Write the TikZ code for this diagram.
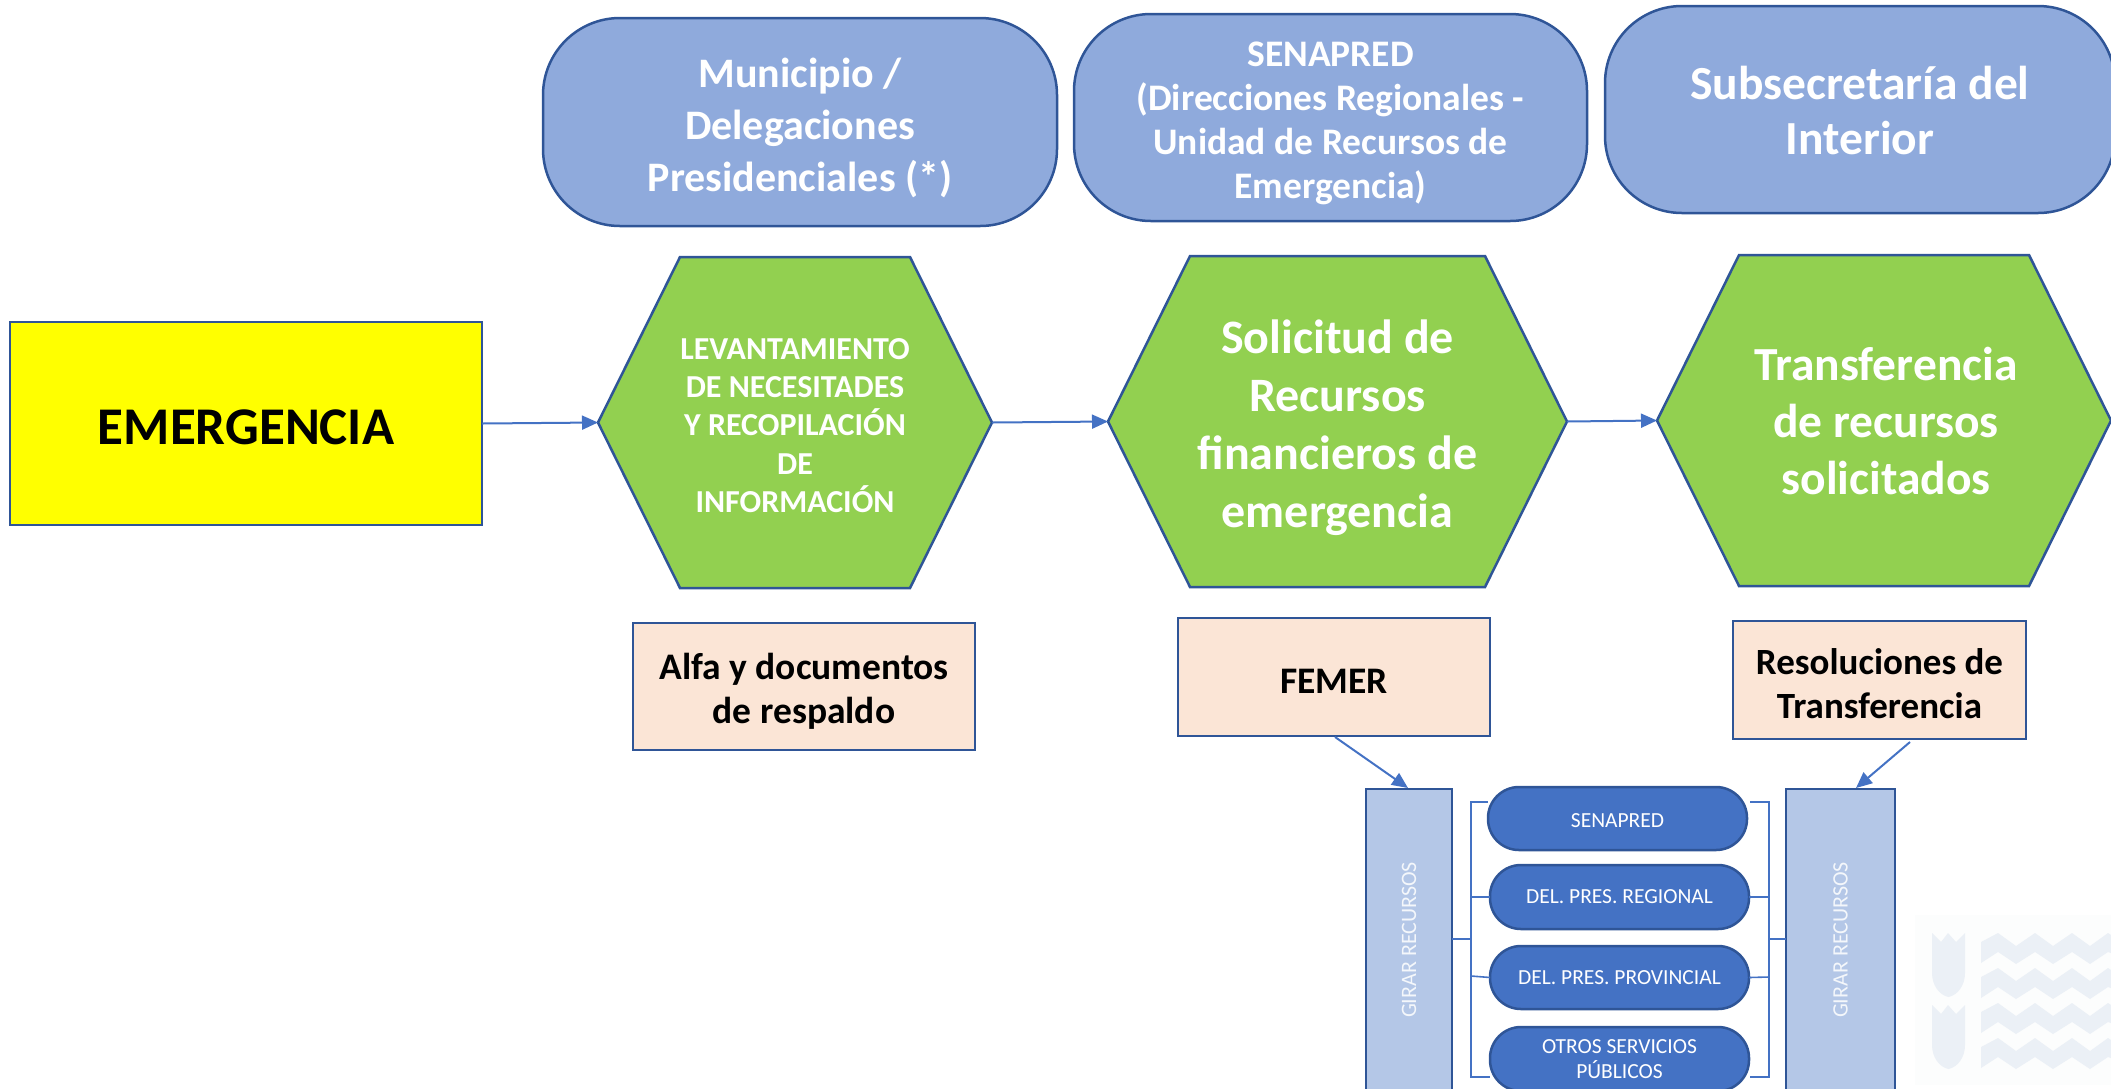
\documentclass[tikz,border=0pt]{standalone}
\usepackage{fontspec}
\setmainfont{Carlito}
\usetikzlibrary{calc,backgrounds,arrows.meta}
\definecolor{boxblue}{HTML}{8FAADC}
\definecolor{edgeblue}{HTML}{2F5597}
\definecolor{hexgreen}{HTML}{92D050}
\definecolor{peach}{HTML}{FBE5D6}
\definecolor{ovalblue}{HTML}{4472C4}
\definecolor{girar}{HTML}{B4C7E7}
\definecolor{wmark}{HTML}{EBF0F6}
\definecolor{wback}{HTML}{FCFDFD}
\definecolor{signal}{HTML}{FFFF00}
\newcommand{\fs}[2]{\fontsize{#1}{#2}\selectfont}
\newcommand{\dn}[1]{\rule{0pt}{\dimexpr 0.72em+#1pt*2\relax}}
\newcommand{\hexa}[2]{%
  \begin{scope}[on background layer]
  \filldraw[hexline] (#1.west) -- ($(#1.north west)+(#2,0)$) -- ($(#1.north east)+(-#2,0)$) -- (#1.east) -- ($(#1.south east)+(-#2,0)$) -- ($(#1.south west)+(#2,0)$) -- cycle;
  \end{scope}}
\tikzset{
  bold size/.style 2 args={font=\bfseries\fs{#1}{#2}},
  plain size/.style 2 args={font=\fs{#1}{#2}},
  base/.style={inner sep=0pt,outer sep=0pt,align=center,line width=2.5pt,draw=edgeblue},
  head/.style={base,fill=boxblue,text=white,rounded corners=77pt},
  hextext/.style={inner sep=0pt,outer sep=0pt,align=center,text=white,minimum height=331pt},
  hexline/.style={fill=hexgreen,draw=edgeblue,line width=2.5pt,line join=miter},
  doc/.style={base,fill=peach,text=black},
  bar/.style={base,fill=girar,text=white!85!girar,minimum height=302pt},
  pill/.style={base,fill=ovalblue,text=white,rounded corners=31pt,minimum width=259pt,plain size={21.5}{25}},
  flow/.style={draw=ovalblue,line width=2pt,-{Triangle[length=16pt,width=14pt]}},
  tie/.style={draw=ovalblue,line width=1.6pt},
}
\begin{document}
\begin{tikzpicture}[x=1pt,y=-1pt]
\useasboundingbox (0,0) rectangle (2111,1088);
% watermark
\fill[wback] (1915,915) rectangle (2111,1085);
\foreach \yy in {933,1005}{
  \fill[wmark] (1932,\yy) -- (1941,\yy+9) -- (1948,\yy) -- (1956,\yy+9) -- (1965,\yy) -- (1965,\yy+40) .. controls (1965,\yy+52) and (1958,\yy+62) .. (1948.5,\yy+64) .. controls (1939,\yy+62) and (1932,\yy+52) .. (1932,\yy+40) -- cycle;
}
\foreach \yy in {933,968,1003,1038}{
  \fill[wmark] (1981,\yy+9) -- (1998,\yy) -- (2016,\yy+13) -- (2035,\yy) -- (2053,\yy+13) -- (2072,\yy) -- (2090,\yy+13) -- (2108,\yy) -- (2111,\yy+2) -- (2111,\yy+20) -- (2108,\yy+19) -- (2090,\yy+31) -- (2072,\yy+19) -- (2053,\yy+31) -- (2035,\yy+19) -- (2016,\yy+31) -- (1998,\yy+19) -- (1981,\yy+30) -- cycle;
}
% headers
\node[head,bold size={42}{52},minimum width=514pt,minimum height=208pt] (h1) at (800,122) {\dn{6}Municipio /\\Delegaciones\\Presidenciales (*)};
\node[head,bold size={37.5}{44},minimum width=513pt,minimum height=207pt] (h2) at (1330.5,117.5) {\dn{5}SENAPRED\\(Direcciones Regionales -\\Unidad de Recursos de\\Emergencia)};
\node[head,minimum width=510pt,minimum height=207pt] (h3) at (1860,109.5) {};
\node[text=white,align=center,bold size={47.5}{55},inner sep=0pt] (h3t) at (1860,111) {Subsecretaría del\\Interior};
% start
\node[base,fill=signal,text=black,bold size={53}{58},minimum width=472pt,minimum height=203pt] (em) at (246,423.5) {\dn{2.5}EMERGENCIA};
% hexagons
\node[hextext,bold size={32}{38.4},minimum width=394pt] (p1) at (795,422.5) {\dn{2}LEVANTAMIENTO\\DE NECESITADES\\Y RECOPILACIÓN\\DE\\INFORMACIÓN};
\hexa{p1}{82}
\node[hextext,bold size={48}{58},minimum width=459pt] (p2) at (1337.5,421.5) {\dn{6}Solicitud de\\Recursos\\financieros de\\emergencia};
\hexa{p2}{82}
\node[hextext,bold size={47.5}{57},minimum width=454pt] (p3) at (1884,420.5) {\hspace*{4pt}Transferencia\\\hspace*{4pt}de recursos\\\hspace*{4pt}solicitados};
\hexa{p3}{82}
% documents
\node[doc,bold size={37.5}{44},minimum width=342pt,minimum height=127pt] (d1) at (804,686.5) {\dn{4}Alfa y documentos\\de respaldo};
\node[doc,bold size={37.5}{43},minimum width=312pt,minimum height=118pt] (d2) at (1334,677) {\dn{2.5}FEMER};
\node[doc,bold size={37}{44},minimum width=293pt,minimum height=118pt] (d3) at (1879.5,680) {\dn{3}Resoluciones de\\Transferencia};
% bars
\node[bar,plain size={22}{24},minimum width=86pt] (b1) at (1409,940) {\rotatebox{90}{GIRAR RECURSOS}};
\node[bar,plain size={22}{24},minimum width=109pt] (b2) at (1840.5,940) {\rotatebox{90}{GIRAR RECURSOS}};
% pills
\node[pill,minimum height=63pt] (s1) at (1617.5,818.5) {\dn{1}SENAPRED};
\node[pill,minimum height=64pt] (s2) at (1619.5,897) {DEL. PRES. REGIONAL};
\node[pill,minimum height=63pt] (s3) at (1619.5,977.5) {DEL. PRES. PROVINCIAL};
\node[pill,minimum height=64pt] (s4) at (1619.5,1059) {OTROS SERVICIOS\\PÚBLICOS};
% connectors
\draw[flow] (em.east) -- (p1.west);
\draw[flow] (p1.east) -- (p2.west);
\draw[flow] (p2.east) -- (p3.west);
\coordinate (a1) at (1335,737);
\coordinate (a2) at (1408,788);
\coordinate (a3) at (1910,742);
\coordinate (a4) at (1856,788);
\draw[flow] (a1) -- (a2);
\draw[flow] (a3) -- (a4);
% brackets
\coordinate (lb) at (1471,939);
\coordinate (rb) at (1769,939);
\draw[tie] (b1.east |- lb) -- (lb);
\draw[tie] (rb) -- (b2.west |- rb);
\draw[tie] (1488,802) -- (1471,802) -- (1471,1077) -- (1490,1077);
\draw[tie] (1471,897) -- (s2.west);
\draw[tie] (1471,976) -- (s3.west);
\draw[tie] (1750,802) -- (1769,802) -- (1769,1077) -- (1750,1077);
\draw[tie] (s2.east) -- (1769,897);
\draw[tie] (s3.east) -- (1769,977);
\end{tikzpicture}
\end{document}
